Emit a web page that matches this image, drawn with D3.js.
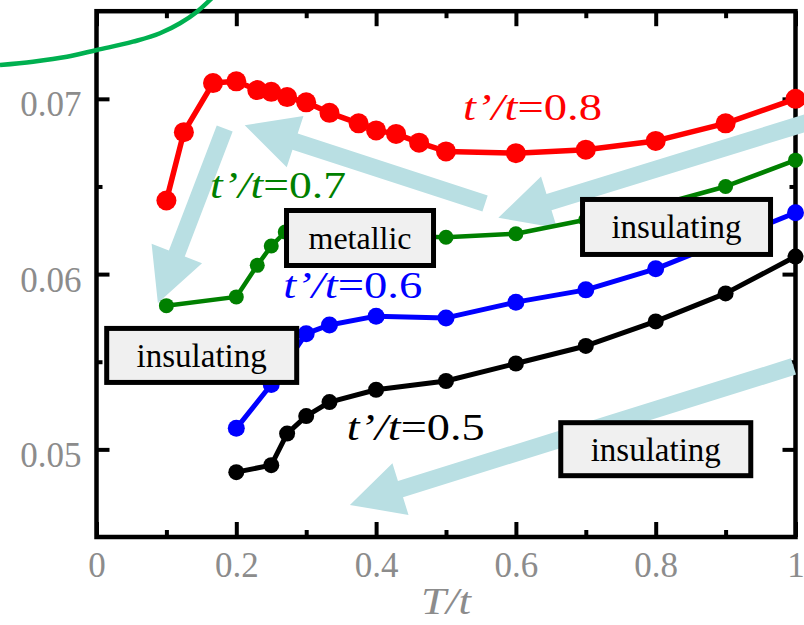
<!DOCTYPE html>
<html>
<head>
<meta charset="utf-8">
<script src="https://cdn.jsdelivr.net/npm/d3@7"></script>
<style>
  html, body { margin: 0; padding: 0; background: #fff; }
  svg { display: block; }
</style>
</head>
<body>
<svg id="chart" width="804" height="625"></svg>
<script>
// ---- data: D(T) for several t'/t ----
const tempsR = [0.1, 0.125, 0.1667, 0.2, 0.23, 0.25, 0.2727, 0.3, 0.3333, 0.375, 0.4, 0.4286, 0.4615, 0.5, 0.6, 0.7, 0.8, 0.9, 1.0];
const valsR  = [0.0642, 0.0681, 0.0709, 0.0710, 0.0705, 0.0704, 0.0701, 0.0698, 0.0692, 0.0686, 0.0682, 0.0680, 0.0675, 0.0670, 0.0669, 0.0671, 0.0676, 0.0686, 0.0700];

const tempsG = [0.1, 0.2, 0.23, 0.25, 0.27, 0.3, 0.3333, 0.4, 0.5, 0.6, 0.7, 0.8, 0.9, 1.0];
const valsG  = [0.0582, 0.0587, 0.0605, 0.0616, 0.0624, 0.0625, 0.0624, 0.0622, 0.0621, 0.0623, 0.0631, 0.0639, 0.0650, 0.0665];

const tempsB = [0.2, 0.25, 0.3, 0.3333, 0.4, 0.5, 0.6, 0.7, 0.8, 0.9, 1.0];
const valsB  = [0.0512, 0.0537, 0.0566, 0.0571, 0.0576, 0.0575, 0.0584, 0.0591, 0.0603, 0.0619, 0.0635];

const tempsK = [0.2, 0.25, 0.2727, 0.3, 0.3333, 0.4, 0.5, 0.6, 0.7, 0.8, 0.9, 1.0];
const valsK  = [0.0487, 0.0491, 0.0509, 0.0519, 0.0527, 0.0534, 0.0539, 0.0549, 0.0559, 0.0573, 0.0589, 0.0610];

const ratioLabels = ["0.8", "0.7", "0.6", "0.5"];

// green boundary curve entering from the upper left
const curveT = [-0.1381, -0.0908, -0.0422, 0.0007, 0.0522, 0.0908, 0.1195, 0.1438, 0.1624, 0.1767];
const curveV = [0.07193, 0.07212, 0.0724, 0.07279, 0.07326, 0.07374, 0.07431, 0.07497, 0.07564, 0.07621];

// tick values
const xMajorTicks = [0, 0.2, 0.4, 0.6, 0.8, 1];
const xMinorTicks = [0.1, 0.3, 0.5, 0.7, 0.9];
const yMajorTicks = [0.05, 0.06, 0.07];
const yMinorTicks = [0.055, 0.065];

// ---- layout ----
const svg = d3.select("#chart");
const x = d3.scaleLinear().domain([0, 1]).range([96.5, 795.5]);
const y = d3.scaleLinear().domain([0.045, 0.075]).range([537, 11.2]);
const FONT = "'Liberation Serif', 'Times New Roman', serif";
const GREY = "#8c8c8c";
const ARROW = "#b9dfe3";

// frame
svg.append("rect")
  .attr("x", x(0)).attr("y", y(0.075))
  .attr("width", x(1) - x(0)).attr("height", y(0.045) - y(0.075))
  .attr("fill", "none").attr("stroke", "#000").attr("stroke-width", 4.5);

function styleAxis(g) {
  g.select(".domain").remove();
  g.selectAll(".tick line").attr("stroke", "#000").attr("stroke-width", 4);
}

// bottom axis with labels
const gBottom = svg.append("g").attr("transform", `translate(0,${y(0.045)})`)
  .call(d3.axisBottom(x).tickValues(xMajorTicks).tickSize(-15)
    .tickFormat(d => d === 0 || d === 1 ? d3.format("d")(d) : d3.format(".1f")(d)));
styleAxis(gBottom);
gBottom.selectAll(".tick text")
  .attr("y", 40).attr("dy", null)
  .attr("font-family", FONT).attr("font-size", 35).attr("fill", GREY);
svg.append("g").attr("transform", `translate(0,${y(0.045)})`)
  .call(d3.axisBottom(x).tickValues(xMinorTicks).tickSize(-7).tickFormat(""))
  .call(styleAxis);

// top axis ticks
svg.append("g").attr("transform", `translate(0,${y(0.075)})`)
  .call(d3.axisTop(x).tickValues(xMajorTicks).tickSize(-15).tickFormat(""))
  .call(styleAxis);
svg.append("g").attr("transform", `translate(0,${y(0.075)})`)
  .call(d3.axisTop(x).tickValues(xMinorTicks).tickSize(-7).tickFormat(""))
  .call(styleAxis);

// left axis with labels
const gLeft = svg.append("g").attr("transform", `translate(${x(0)},0)`)
  .call(d3.axisLeft(y).tickValues(yMajorTicks).tickSize(-13).tickPadding(15).tickFormat(d3.format(".2f")));
styleAxis(gLeft);
gLeft.selectAll(".tick text")
  .attr("x", -15).attr("y", 5).attr("dy", "0.34em")
  .attr("font-family", FONT).attr("font-size", 35).attr("fill", GREY);
svg.append("g").attr("transform", `translate(${x(0)},0)`)
  .call(d3.axisLeft(y).tickValues(yMinorTicks).tickSize(-6).tickFormat(""))
  .call(styleAxis);

// right axis ticks
svg.append("g").attr("transform", `translate(${x(1)},0)`)
  .call(d3.axisRight(y).tickValues(yMajorTicks).tickSize(-13).tickFormat(""))
  .call(styleAxis);
svg.append("g").attr("transform", `translate(${x(1)},0)`)
  .call(d3.axisRight(y).tickValues(yMinorTicks).tickSize(-6).tickFormat(""))
  .call(styleAxis);

// axis title T/t
svg.append("text")
  .attr("x", (x(0) + x(1)) / 2).attr("y", 614)
  .attr("text-anchor", "middle")
  .attr("font-family", FONT).attr("font-size", 37).attr("font-style", "italic")
  .attr("fill", GREY)
  .attr("textLength", 50).attr("lengthAdjust", "spacingAndGlyphs")
  .text("T/t");

// green boundary curve
const curvePts = curveT.map((t, i) => [t, curveV[i]]);
svg.append("path")
  .attr("d", d3.line().x(d => x(d[0])).y(d => y(d[1])).curve(d3.curveMonotoneX)(curvePts))
  .attr("fill", "none").attr("stroke", "#00b050").attr("stroke-width", 4.5);

// ---- arrows (tail, tip in data units) ----
const arrowTails = [[0.1834, 0.06831], [0.5559, 0.06403], [1.0501, 0.06906], [0.9971, 0.05473]];
const arrowTips  = [[0.0878, 0.05835], [0.2120, 0.06849], [0.5749, 0.06321], [0.3625, 0.04683]];

function arrowPoints(tail, tip) {
  const sw = 17, hl = 53, hw = 54;
  const x0 = x(tail[0]), y0 = y(tail[1]), x1 = x(tip[0]), y1 = y(tip[1]);
  const len = Math.hypot(x1 - x0, y1 - y0);
  const ux = (x1 - x0) / len, uy = (y1 - y0) / len;
  const nx = -uy, ny = ux;
  const bx = x1 - ux * hl, by = y1 - uy * hl;
  return [
    [x0 + nx * sw / 2, y0 + ny * sw / 2],
    [bx + nx * sw / 2, by + ny * sw / 2],
    [bx + nx * hw / 2, by + ny * hw / 2],
    [x1, y1],
    [bx - nx * hw / 2, by - ny * hw / 2],
    [bx - nx * sw / 2, by - ny * sw / 2],
    [x0 - nx * sw / 2, y0 - ny * sw / 2]
  ];
}
svg.append("g").selectAll("polygon")
  .data(arrowTails.map((t, i) => arrowPoints(t, arrowTips[i])))
  .join("polygon")
  .attr("points", d => d.map(p => p.join(",")).join(" "))
  .attr("fill", ARROW);

// ---- series ----
const series = [
  { t: tempsK, v: valsK, color: "#000000", r: 8,   w: 5 },
  { t: tempsB, v: valsB, color: "#0000ff", r: 8.5, w: 5 },
  { t: tempsG, v: valsG, color: "#008000", r: 7.5, w: 4.5 },
  { t: tempsR, v: valsR, color: "#ff0000", r: 10,  w: 5.5 }
];
const line = d3.line().x(d => x(d[0])).y(d => y(d[1]));
series.forEach(s => {
  const pts = s.t.map((t, i) => [t, s.v[i]]);
  const g = svg.append("g");
  g.append("path").attr("d", line(pts))
    .attr("fill", "none").attr("stroke", s.color).attr("stroke-width", s.w)
    .attr("stroke-linejoin", "round");
  g.selectAll("circle").data(pts).join("circle")
    .attr("cx", d => x(d[0])).attr("cy", d => y(d[1])).attr("r", s.r)
    .attr("fill", s.color);
});

// ---- region boxes (centre in data units) ----
const boxText = ["metallic", "insulating", "insulating", "insulating"];
const boxCentres = [[0.377, 0.06206], [0.8298, 0.06269], [0.1505, 0.05536], [0.8001, 0.05001]];
const boxSizes = [[152, 60], [193, 60], [195, 59], [195, 58]];
boxText.forEach((txt, i) => {
  const cx = x(boxCentres[i][0]), cy = y(boxCentres[i][1]);
  const [w, h] = boxSizes[i];
  svg.append("rect")
    .attr("x", cx - w / 2 + 2.5).attr("y", cy - h / 2 + 2.5)
    .attr("width", w - 5).attr("height", h - 5)
    .attr("fill", "#f0f0f0").attr("stroke", "#000").attr("stroke-width", 5);
  svg.append("text")
    .attr("x", cx).attr("y", cy + 11.5)
    .attr("text-anchor", "middle")
    .attr("font-family", FONT).attr("font-size", i === 0 ? 32 : 33)
    .attr("fill", "#000")
    .text(txt);
});

// ---- t'/t labels (left/baseline anchor in data units) ----
const labelAnchors = [[0.5243, 0.06879], [0.1624, 0.06433], [0.2672, 0.05861], [0.3579, 0.05053]];
const labelWidths = [139, 136, 139, 138];
const labelColors = ["#ff0000", "#008000", "#0000ff", "#000000"];
ratioLabels.forEach((lab, i) => {
  const t = svg.append("text")
    .attr("x", x(labelAnchors[i][0])).attr("y", y(labelAnchors[i][1]))
    .attr("font-family", FONT).attr("font-size", 37)
    .attr("fill", labelColors[i])
    .attr("textLength", labelWidths[i]).attr("lengthAdjust", "spacingAndGlyphs");
  t.append("tspan").attr("font-style", "italic").text("t\u2019/t");
  t.append("tspan").text("=" + lab);
});
</script>
</body>
</html>
